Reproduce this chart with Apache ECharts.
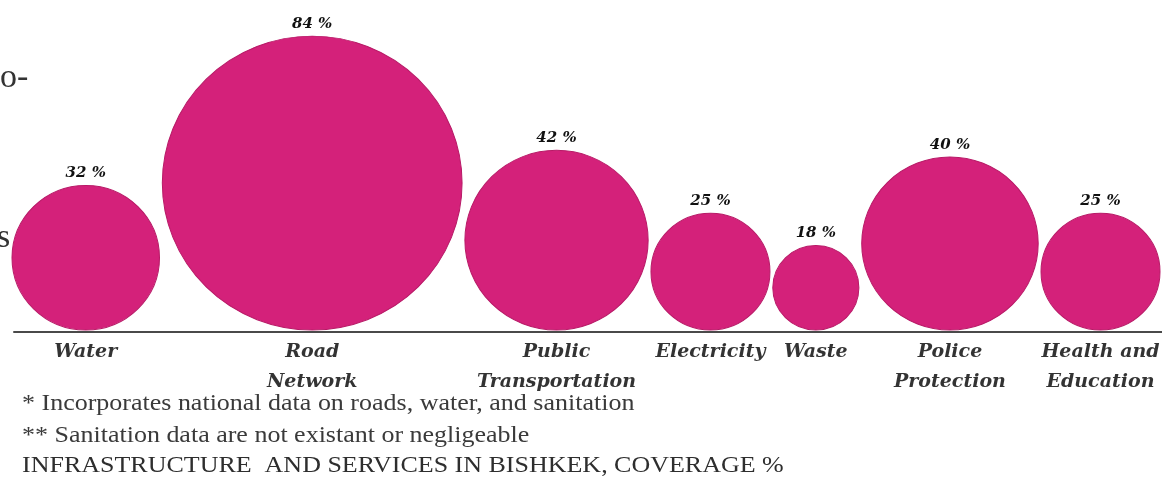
<!DOCTYPE html>
<html>
<head>
<meta charset="utf-8">
<script src="https://cdn.jsdelivr.net/npm/echarts@6/dist/echarts.min.js"></script>
<style>
  html, body { margin: 0; padding: 0; background: #ffffff; }
  #chart { width: 1162px; height: 481px; }
</style>
</head>
<body>
<div id="chart"></div>
<script>
// ---- data ----
const categories = ['Water', 'Road\nNetwork', 'Public\nTransportation', 'Electricity', 'Waste', 'Police\nProtection', 'Health and\nEducation'];
const coverage = [32, 84, 42, 25, 18, 40, 25];
const footnotes = [
  '* Incorporates national data on roads, water, and sanitation',
  '** Sanitation data are not existant or negligeable'
];
const chartTitle = 'INFRASTRUCTURE  AND SERVICES IN BISHKEK, COVERAGE %';
const edgeFragments = ['o-', 's'];

// ---- layout helpers ----
const W = 1162, H = 481;
const baseline = 332;          // y pixel of the axis line
const rowStart = 12, rowEnd = 1160;   // bubbles are packed across this span
const lift = 2;                // circles float just above the axis line
const aspect = 1.02;           // bubbles are drawn slightly wider than tall
// bubble diameter mapped from coverage value
function diameter(v) { return -96.1 + 42.55 * Math.sqrt(v); }

const diam = coverage.map(diameter);
const widths = diam.map(d => d * aspect);
const totalW = widths.reduce((a, b) => a + b, 0);
const gap = (rowEnd - rowStart - totalW) / (widths.length - 1);
const centers = [];
let cursor = rowStart;
widths.forEach((w) => {
  centers.push(cursor + w / 2);
  cursor += w + gap;
});

const bubbleData = coverage.map((v, i) => ({ value: [centers[i], diam[i] / 2 + lift, v], symbolSize: [widths[i], diam[i]] }));
const labelData = categories.map((c, i) => ({ value: [centers[i], 0], name: c }));

const chart = echarts.init(document.getElementById('chart'), null, { renderer: 'canvas' });
const serif = '"Liberation Serif", serif';
const wideSerif = '"DejaVu Serif", serif';

chart.setOption({
  animation: false,
  backgroundColor: '#ffffff',
  grid: { left: 14, right: 0, top: 0, bottom: H - baseline },
  xAxis: {
    type: 'value', min: 14, max: W,
    axisLine: { show: true, lineStyle: { color: '#4a4a4a', width: 2 } },
    axisTick: { show: false }, axisLabel: { show: false }, splitLine: { show: false }
  },
  yAxis: {
    type: 'value', min: 0, max: baseline,
    axisLine: { show: false }, axisTick: { show: false }, axisLabel: { show: false }, splitLine: { show: false }
  },
  series: [
    {
      type: 'scatter',
      data: bubbleData,
      clip: false,
      itemStyle: { color: '#d4217a', borderColor: '#b81a67', borderWidth: 1, opacity: 1 },
      label: {
        show: true, position: 'top', distance: 4,
        formatter: p => p.value[2] + ' %',
        fontFamily: wideSerif, fontStyle: 'italic', fontWeight: 'bold', fontSize: 15, color: '#111'
      },
      emphasis: { disabled: true }
    },
    {
      type: 'scatter',
      data: labelData,
      symbolSize: 0,
      clip: false,
      label: {
        show: true, position: 'bottom', distance: 5,
        formatter: p => p.name,
        fontFamily: wideSerif, fontStyle: 'italic', fontWeight: 'bold', fontSize: 19, lineHeight: 30,
        color: '#000', align: 'center'
      },
      emphasis: { disabled: true }
    }
  ],
  graphic: [
    { type: 'text', x: 22, y: 392, scaleX: 1.13, style: { text: footnotes[0], font: '23px ' + serif, fill: '#3a3a3a' } },
    { type: 'text', x: 22, y: 424, scaleX: 1.13, style: { text: footnotes[1], font: '23px ' + serif, fill: '#3a3a3a' } },
    { type: 'text', x: 22, y: 454, scaleX: 1.13, style: { text: chartTitle, font: '23px ' + serif, fill: '#2e2e2e' } },
    { type: 'text', x: 0, y: 61, style: { text: edgeFragments[0], font: '34px ' + serif, fill: '#333' } },
    { type: 'text', x: -3, y: 221, style: { text: edgeFragments[1], font: '34px ' + serif, fill: '#333' } }
  ]
});
</script>
</body>
</html>
